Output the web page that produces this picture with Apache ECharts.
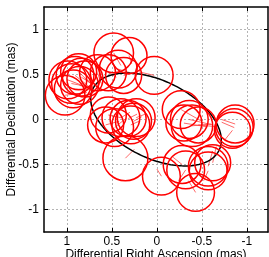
<!DOCTYPE html>
<html>
<head>
<meta charset="utf-8">
<script src="https://cdn.jsdelivr.net/npm/echarts@6/dist/echarts.min.js"></script>
<style>
    html, body {margin: 0; padding: 0; background: #fff;}
    #main {width: 269px; height: 257px;}
</style>
</head>
<body>
<div id="main"></div>
<script>
// measured positions (mas) and error circle radii
var obsX = [0.48, 0.31, 0.54, 0.43, 0.03, 0.37, 0.66,
    1.02, 0.99, 0.91, 0.86, 0.93, 0.80, 0.87, 0.95, 0.84,
    0.54, 0.57, 0.47, 0.32, 0.23, 0.29, 0.26, 0.40, 0.35,
    -0.27, -0.36, -0.39, -0.46, -0.30, -0.86, -0.84, -0.87,
    -0.05, -0.28, -0.32, -0.57, -0.57, -0.62, -0.43];
var obsY = [0.74, 0.71, 0.52, 0.56, 0.49, 0.49, 0.52,
    0.27, 0.44, 0.49, 0.38, 0.34, 0.45, 0.53, 0.40, 0.47,
    0.05, -0.06, -0.09, 0.01, 0.02, -0.06, -0.02, 0.02, -0.43,
    0.11, 0.00, -0.07, -0.06, -0.04, -0.09, -0.12, -0.05,
    -0.63, -0.50, -0.56, -0.52, -0.57, -0.48, -0.81];
var obsR = [0.22, 0.20, 0.20, 0.21, 0.21, 0.20, 0.20,
    0.22, 0.21, 0.21, 0.21, 0.21, 0.20, 0.20, 0.22, 0.21,
    0.20, 0.20, 0.21, 0.20, 0.21, 0.21, 0.20, 0.21, 0.25,
    0.21, 0.21, 0.23, 0.20, 0.20, 0.21, 0.20, 0.21,
    0.21, 0.21, 0.21, 0.22, 0.21, 0.20, 0.21];
// other end of the residual lines
var resX = [0.40, 0.28, 0.45, 0.30, 0.20, 0.28, 0.62,
    0.78, 0.78, 0.76, 0.72, 0.76, 0.70, 0.74, 0.74, 0.70,
    0.40, 0.42, 0.36, 0.22, 0.13, 0.20, 0.17, 0.30, 0.25,
    -0.50, -0.62, -0.60, -0.66, -0.55, -0.72, -0.76, -0.72,
    0.00, -0.18, -0.24, -0.62, -0.52, -0.66, -0.35];
var resY = [0.60, 0.62, 0.47, 0.52, 0.53, 0.51, 0.40,
    0.30, 0.36, 0.37, 0.34, 0.33, 0.40, 0.40, 0.36, 0.38,
    0.02, -0.02, 0.00, 0.06, 0.06, -0.02, 0.03, 0.08, -0.33,
    -0.02, -0.06, -0.05, -0.08, -0.08, -0.03, -0.22, 0.00,
    -0.55, -0.42, -0.68, -0.35, -0.68, -0.30, -0.68];

// fitted orbit: centre x, centre y, semi-major, semi-minor, tilt (deg)
var orbit = [0.01, 0.0, 0.78, 0.43, 26];

var xTicks = [1, 0.5, 0, -0.5, -1];
var yTicks = [-1, -0.5, 0, 0.5, 1];

var myChart = echarts.init(document.getElementById('main'));

var circleData = obsX.map(function (x, i) { return [x, obsY[i], obsR[i]]; });
var resData = obsX.map(function (x, i) { return [x, obsY[i], resX[i], resY[i]]; });

var font = 'Liberation Sans, Arial, sans-serif';
var gridLine = {show: true, lineStyle: {color: '#b4b4b4', width: 1, type: [2, 2]}};

function axisBase(ticks, extra) {
    var a = {
        type: 'value',
        axisLine: {show: true, onZero: false, lineStyle: {color: '#000', width: 1.5}},
        axisTick: {show: true, inside: true, length: 4, customValues: ticks, lineStyle: {color: '#000', width: 1}},
        axisLabel: {show: false, customValues: ticks},
        splitLine: {show: false}
    };
    for (var k in extra) a[k] = extra[k];
    return a;
}

var option = {
    animation: false,
    grid: {left: 44, right: 1, top: 7, bottom: 25, containLabel: false, outerBoundsMode: 'none'},
    xAxis: [
        axisBase(xTicks, {
            min: -1.235, max: 1.255, inverse: true, position: 'bottom',
            axisLabel: {show: true, customValues: xTicks, margin: 4, fontSize: 12, color: '#000', fontFamily: font},
            splitLine: gridLine,
            name: 'Differential Right Ascension (mas)', nameLocation: 'middle', nameGap: 17,
            nameMoveOverlap: false,
            nameTextStyle: {fontSize: 12, color: '#000', fontFamily: font}
        }),
        axisBase(xTicks, {min: -1.235, max: 1.255, inverse: true, position: 'top'})
    ],
    yAxis: [
        axisBase(yTicks, {
            min: -1.25, max: 1.25, position: 'left',
            axisLabel: {show: true, customValues: yTicks, margin: 5, fontSize: 12, color: '#000', fontFamily: font},
            splitLine: gridLine,
            name: 'Differential Declination (mas)', nameLocation: 'middle', nameGap: 26,
            nameMoveOverlap: false,
            nameTextStyle: {fontSize: 12, color: '#000', fontFamily: font}
        }),
        axisBase(yTicks, {min: -1.25, max: 1.25, position: 'right'})
    ],
    series: [
        {
            type: 'custom',
            name: 'residuals',
            data: resData,
            renderItem: function (params, api) {
                var p0 = api.coord([api.value(0), api.value(1)]);
                var p1 = api.coord([api.value(2), api.value(3)]);
                return {
                    type: 'line',
                    shape: {x1: p0[0], y1: p0[1], x2: p1[0], y2: p1[1]},
                    style: {stroke: 'rgba(255,40,40,0.7)', lineWidth: 1}
                };
            }
        },
        {
            type: 'custom',
            name: 'orbit',
            data: [orbit],
            renderItem: function (params, api) {
                var cx = api.value(0), cy = api.value(1), a = api.value(2), b = api.value(3);
                var th = api.value(4) * Math.PI / 180;
                var pts = [];
                for (var i = 0; i < 180; i++) {
                    var t = i / 180 * 2 * Math.PI;
                    var u = a * Math.cos(t), v = b * Math.sin(t);
                    pts.push(api.coord([cx + u * Math.cos(th) - v * Math.sin(th),
                        cy + u * Math.sin(th) + v * Math.cos(th)]));
                }
                return {
                    type: 'polygon',
                    shape: {points: pts},
                    style: {fill: 'none', stroke: '#000', lineWidth: 1.5}
                };
            }
        },
        {
            type: 'custom',
            name: 'error circles',
            data: circleData,
            renderItem: function (params, api) {
                var c = api.coord([api.value(0), api.value(1)]);
                var r = Math.abs(api.size([api.value(2), 0])[0]);
                return {
                    type: 'circle',
                    shape: {cx: c[0], cy: c[1], r: r},
                    style: {fill: 'none', stroke: '#ff0000', lineWidth: 1.5}
                };
            }
        }
    ]
};

myChart.setOption(option);
</script>
</body>
</html>
